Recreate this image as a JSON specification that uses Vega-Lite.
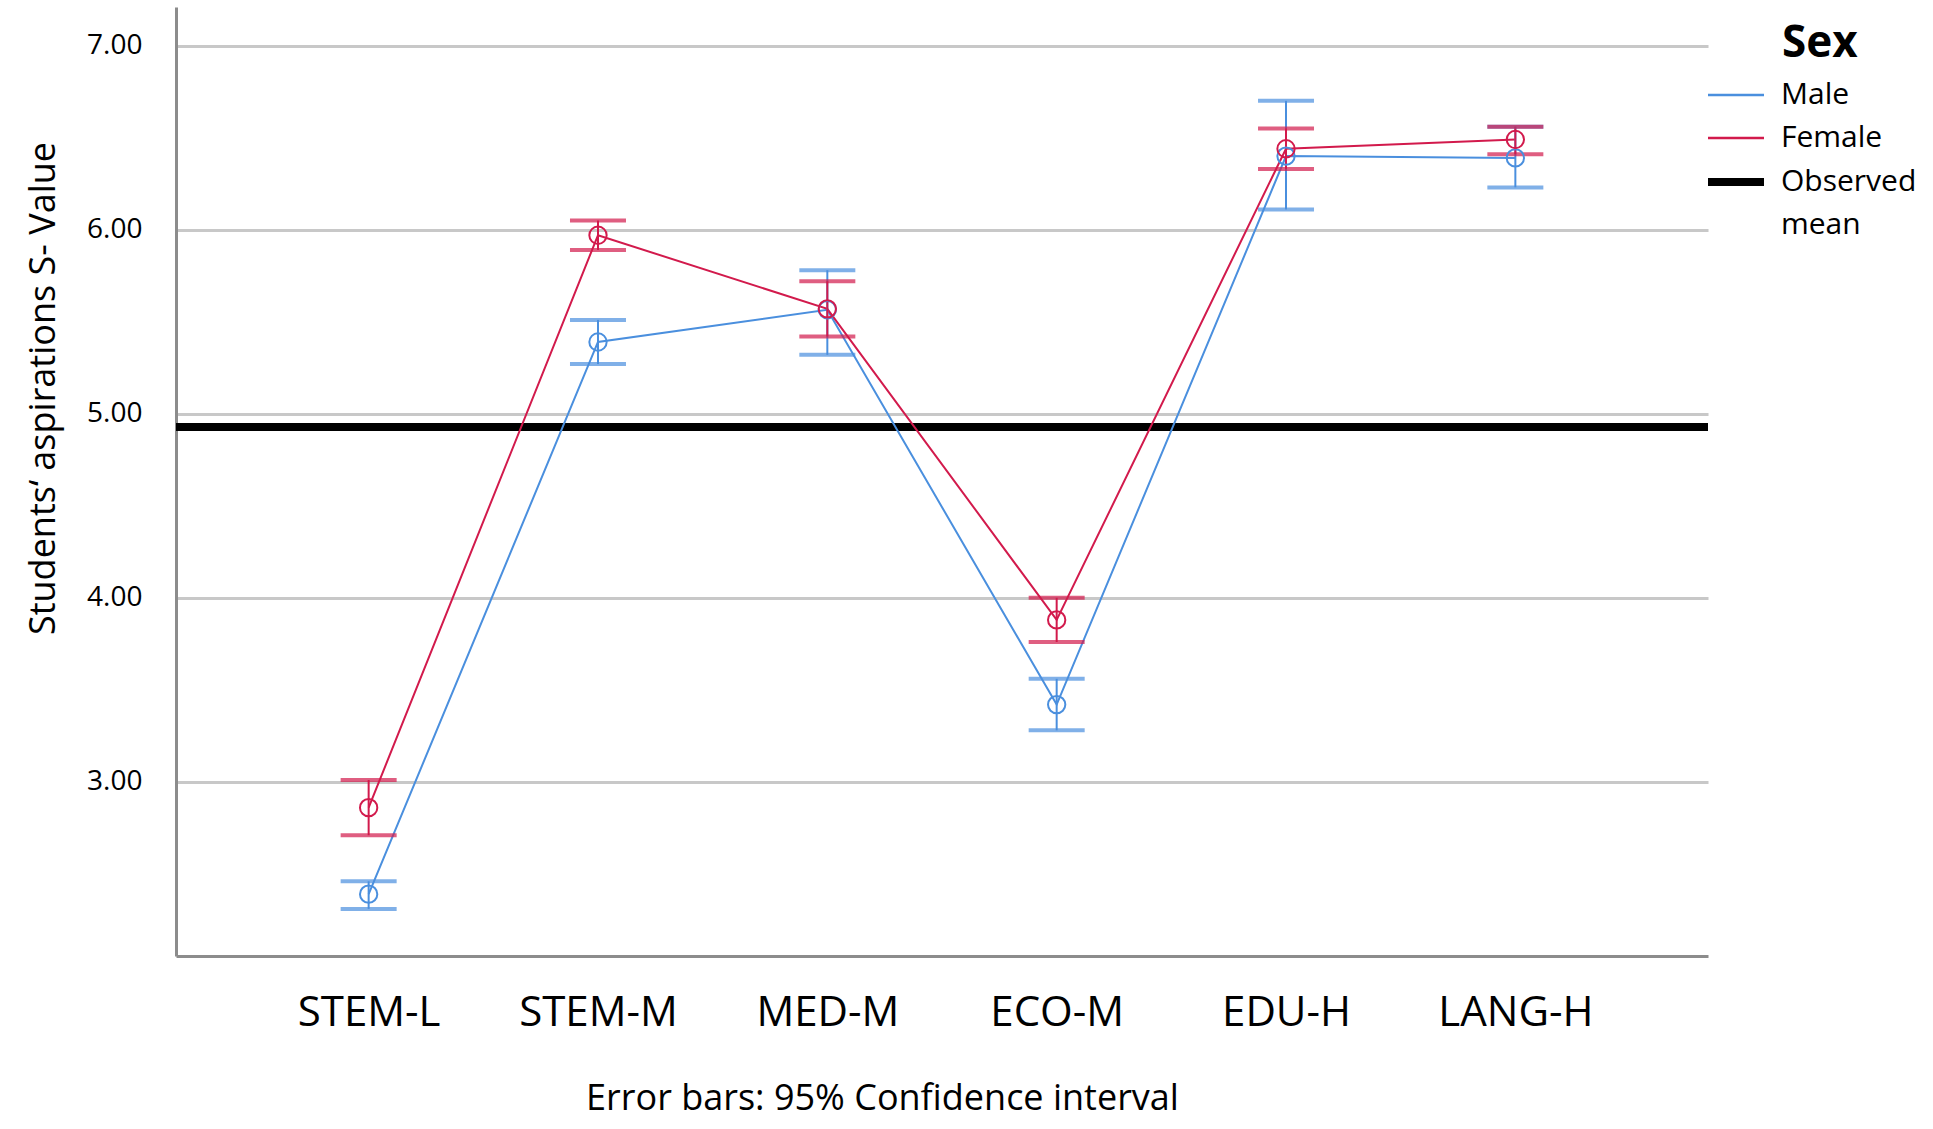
{
  "$schema": "https://vega.github.io/schema/vega-lite/v6.json",
  "autosize": "none",
  "width": 1532,
  "height": 949,
  "padding": {"left": 176, "top": 7, "right": 225, "bottom": 173},
  "background": "white",
  "datasets": {
    "means": [
      {"cat": "STEM-L", "sex": "Male", "mean": 2.39, "lo": 2.31, "hi": 2.46},
      {"cat": "STEM-M", "sex": "Male", "mean": 5.39, "lo": 5.27, "hi": 5.51},
      {"cat": "MED-M", "sex": "Male", "mean": 5.565, "lo": 5.32, "hi": 5.78},
      {"cat": "ECO-M", "sex": "Male", "mean": 3.42, "lo": 3.28, "hi": 3.56},
      {"cat": "EDU-H", "sex": "Male", "mean": 6.4, "lo": 6.11, "hi": 6.7},
      {"cat": "LANG-H", "sex": "Male", "mean": 6.39, "lo": 6.23, "hi": 6.56},
      {"cat": "STEM-L", "sex": "Female", "mean": 2.86, "lo": 2.71, "hi": 3.01},
      {"cat": "STEM-M", "sex": "Female", "mean": 5.97, "lo": 5.89, "hi": 6.05},
      {"cat": "MED-M", "sex": "Female", "mean": 5.57, "lo": 5.42, "hi": 5.72},
      {"cat": "ECO-M", "sex": "Female", "mean": 3.88, "lo": 3.76, "hi": 4.0},
      {"cat": "EDU-H", "sex": "Female", "mean": 6.44, "lo": 6.33, "hi": 6.55},
      {"cat": "LANG-H", "sex": "Female", "mean": 6.49, "lo": 6.41, "hi": 6.56}
    ],
    "observed": [
      {"sex": "Observed mean", "mean": 4.928}
    ]
  },
  "layer": [
    {
      "data": {"name": "observed"},
      "mark": {"type": "rule", "strokeWidth": 8},
      "encoding": {
        "y": {"field": "mean", "type": "quantitative"},
        "color": {
          "field": "sex",
          "type": "nominal",
          "scale": {
            "domain": ["Male", "Female", "Observed mean"],
            "range": ["#4a8fde", "#d21a4c", "#000000"]
          },
          "legend": {
            "title": "Sex",
            "orient": "none",
            "legendX": 1545,
            "legendY": 15,
            "padding": 0,
            "titleFontSize": 44,
            "titleFontWeight": "bold",
            "titleAnchor": "start",
            "titlePadding": 14,
            "labelFontSize": 30,
            "labelOffset": 30,
            "labelExpr": "datum.label == 'Observed mean' ? ['Observed', 'mean'] : datum.label",
            "symbolType": "M -1.4 0 L 1.4 0",
            "symbolSize": 1600,
            "symbolFillColor": "transparent",
            "rowPadding": 13,
            "encode": {
              "title": {"update": {"dx": {"value": 61}}},
              "labels": {"update": {"lineHeight": {"value": 43}}},
              "symbols": {
                "update": {
                  "strokeWidth": {"signal": "datum.value === 'Observed mean' ? 8 : 2.5"}
                }
              }
            }
          }
        }
      }
    },
    {
      "data": {"name": "means"},
      "mark": {"type": "line", "strokeWidth": 2},
      "encoding": {
        "x": {"field": "cat", "type": "nominal"},
        "y": {"field": "mean", "type": "quantitative"},
        "color": {"field": "sex", "type": "nominal"}
      }
    },
    {
      "data": {"name": "means"},
      "mark": {"type": "rule", "strokeWidth": 2},
      "encoding": {
        "x": {"field": "cat", "type": "nominal"},
        "y": {"field": "lo", "type": "quantitative"},
        "y2": {"field": "hi"},
        "color": {"field": "sex", "type": "nominal"}
      }
    },
    {
      "data": {"name": "means"},
      "mark": {"type": "tick", "size": 56, "thickness": 4},
      "encoding": {
        "x": {"field": "cat", "type": "nominal"},
        "y": {"field": "hi", "type": "quantitative"},
        "color": {"field": "sex", "type": "nominal"}
      }
    },
    {
      "data": {"name": "means"},
      "mark": {"type": "tick", "size": 56, "thickness": 4},
      "encoding": {
        "x": {"field": "cat", "type": "nominal"},
        "y": {"field": "lo", "type": "quantitative"},
        "color": {"field": "sex", "type": "nominal"}
      }
    },
    {
      "data": {"name": "means"},
      "mark": {"type": "point", "shape": "circle", "filled": false, "size": 300, "strokeWidth": 2, "opacity": 1},
      "encoding": {
        "x": {
          "field": "cat",
          "type": "nominal",
          "scale": {
            "type": "point",
            "padding": 0.84,
            "domain": ["STEM-L", "STEM-M", "MED-M", "ECO-M", "EDU-H", "LANG-H"]
          },
          "axis": {
            "title": "Error bars: 95% Confidence interval",
            "labelAngle": 0,
            "labelAlign": "center",
            "labelFontSize": 42,
            "labelPadding": 36,
            "labelBaseline": "top",
            "titleFontSize": 36,
            "titleFontWeight": "normal",
            "titleBaseline": "top",
            "titleAlign": "center",
            "titleX": 706,
            "titleY": 125,
            "domainColor": "#8c8c8c",
            "domainWidth": 3,
            "grid": false
          }
        },
        "y": {
          "field": "mean",
          "type": "quantitative",
          "scale": {"domain": [2.054, 7.21], "nice": false, "zero": false},
          "axis": {
            "title": "Students‘ aspirations S- Value",
            "values": [3, 4, 5, 6, 7],
            "format": ".2f",
            "labelFontSize": 28,
            "labelPadding": 34,
            "titleFontSize": 36,
            "titleFontWeight": "normal",
            "titlePadding": 24,
            "titleY": 381,
            "domainColor": "#8c8c8c",
            "domainWidth": 3,
            "grid": true,
            "gridColor": "#c8c8c8",
            "gridWidth": 3
          }
        },
        "color": {"field": "sex", "type": "nominal"}
      }
    }
  ],
  "resolve": {"scale": {"y": "shared", "x": "shared"}},
  "config": {
    "font": "Open Sans",
    "view": {"stroke": null},
    "axis": {"labelColor": "black", "titleColor": "black", "ticks": false},
    "legend": {"labelColor": "black", "titleColor": "black"}
  }
}
